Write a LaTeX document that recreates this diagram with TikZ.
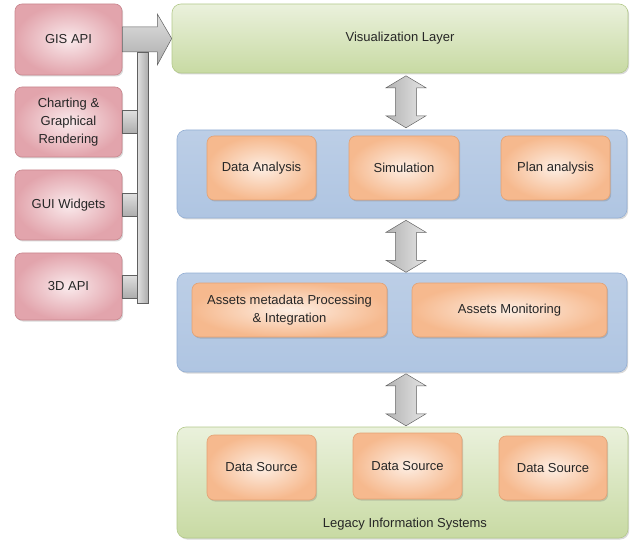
\documentclass[tikz,border=0pt]{standalone}
\usepackage{fontspec}
\setmainfont{Liberation Sans}
\usetikzlibrary{calc,shadows}
\definecolor{pinkout}{HTML}{E2A4AC}
\definecolor{pinkin}{HTML}{FAEAEC}
\definecolor{pinkbd}{HTML}{C9868E}
\definecolor{orout}{HTML}{F6B98E}
\definecolor{orin}{HTML}{FDEEE3}
\definecolor{orbd}{HTML}{E3A274}
\definecolor{bluetop}{HTML}{BCCEE6}
\definecolor{bluemid}{HTML}{E2E9F3}
\definecolor{bluebot}{HTML}{AFC5E2}
\definecolor{bluebd}{HTML}{94AFD4}
\definecolor{grtop}{HTML}{EAF1DC}
\definecolor{grmid}{HTML}{E0EACB}
\definecolor{grbot}{HTML}{C8DAA3}
\definecolor{grbd}{HTML}{B3C98A}
\definecolor{txt}{HTML}{262626}
\tikzset{
  x=1pt, y=-1pt,
  every node/.style={font=\fontsize{13}{18}\selectfont, text=txt, align=center},
  shd/.style={drop shadow={shadow xshift=1.2pt, shadow yshift=-1.5pt, opacity=0.25, fill=black!60}},
  pinkbox/.style={shd, rounded corners=7pt, draw=pinkbd, line width=0.6pt, inner color=pinkin, outer color=pinkout, minimum width=107pt},
  orbox/.style={shd, rounded corners=7pt, draw=orbd, line width=0.6pt, inner color=orin, outer color=orout},
  bluelayer/.style={shd, rounded corners=9pt, draw=bluebd, line width=0.6pt, top color=bluetop, middle color=bluemid, bottom color=bluebot, minimum width=450pt},
  greenlayer/.style={shd, rounded corners=9pt, draw=grbd, line width=0.6pt, top color=grtop, middle color=grmid, bottom color=grbot},
  grayh/.style={draw=gray!75!black, line width=0.5pt, top color=gray!25, bottom color=gray!65},
  grayv/.style={draw=gray!75!black, line width=0.5pt, left color=gray!60, right color=gray!20},
  dblarrow/.pic={\path[grayv] (0,0) -- (20,12) -- (10.5,12) -- (10.5,40) -- (20,40) -- (0,52) -- (-20,40) -- (-10.5,40) -- (-10.5,12) -- (-20,12) -- cycle;}
}
\begin{document}
\begin{tikzpicture}
\useasboundingbox (0,0) rectangle (632,540);
% layers
\node[greenlayer, minimum width=456pt, minimum height=69pt] (vis) at (400,38.5) {Visualization Layer};
\node[bluelayer, minimum height=88pt] (l2) at (402,174) {};
\node[bluelayer, minimum height=99pt] (l3) at (402,322.5) {};
\node[greenlayer, minimum width=451pt, minimum height=111pt] (l4) at (402.5,482.5) {};
% layer 2 boxes
\node[orbox, minimum width=109pt, minimum height=64pt] (da) at (261.5,168) {Data Analysis};
\node[orbox, minimum width=110pt, minimum height=64pt] (sim) at (404,168) {Simulation};
\node[orbox, minimum width=109pt, minimum height=64pt] (plan) at (555.5,168) {Plan analysis};
% layer 3 boxes
\node[orbox, minimum width=195pt, minimum height=54pt] (amp) at (289.5,310) {Assets metadata Processing\\\& Integration};
\node[orbox, minimum width=195pt, minimum height=54pt] (am) at (509.5,310) {Assets Monitoring};
% layer 4 boxes
\node[orbox, minimum width=109pt, minimum height=65pt] (ds1) at (261.5,467.5) {Data Source};
\node[orbox, minimum width=109pt, minimum height=66pt] (ds2) at (407.5,466) {Data Source};
\node[orbox, minimum width=108pt, minimum height=64pt] (ds3) at (553,468) {Data Source};
\node (legacy) at (405,524) {Legacy Information Systems};
% left boxes
\node[pinkbox, minimum height=71pt] (gis) at (68.5,39.5) {GIS API};
\node[pinkbox, minimum height=70pt] (chart) at (68.5,122) {Charting \&\\Graphical\\Rendering};
\node[pinkbox, minimum height=70pt] (gui) at (68.5,205) {GUI Widgets};
\node[pinkbox, minimum height=67pt] (d3) at (68.5,286.5) {3D API};
% stubs
\foreach \b in {chart,gui,d3}{
  \path[grayh] ($(\b.east)+(0,-11.5)$) rectangle ($(\b.east)+(15,11.5)$);
}
% vertical bar
\path[grayv, left color=gray!25, right color=gray!65] ($(gis.east)+(15,12.5)$) rectangle ($(d3.east)+(26,16.5)$);
% main arrow
\path[grayh] ($(gis.east)+(0,-12.5)$) -- ++(35,0) -- ++(0,-13) -- (vis.west) -- ($(gis.east)+(35,25.5)$) -- ++(0,-13) -- ($(gis.east)+(0,12.5)$) -- cycle;
% double arrows
\coordinate (ax) at (406,0);
\path (vis.south -| ax) ++(0,2.5) pic {dblarrow};
\path (l2.south -| ax) ++(0,2) pic {dblarrow};
\path (l3.south -| ax) ++(0,1.5) pic {dblarrow};
\end{tikzpicture}
\end{document}
